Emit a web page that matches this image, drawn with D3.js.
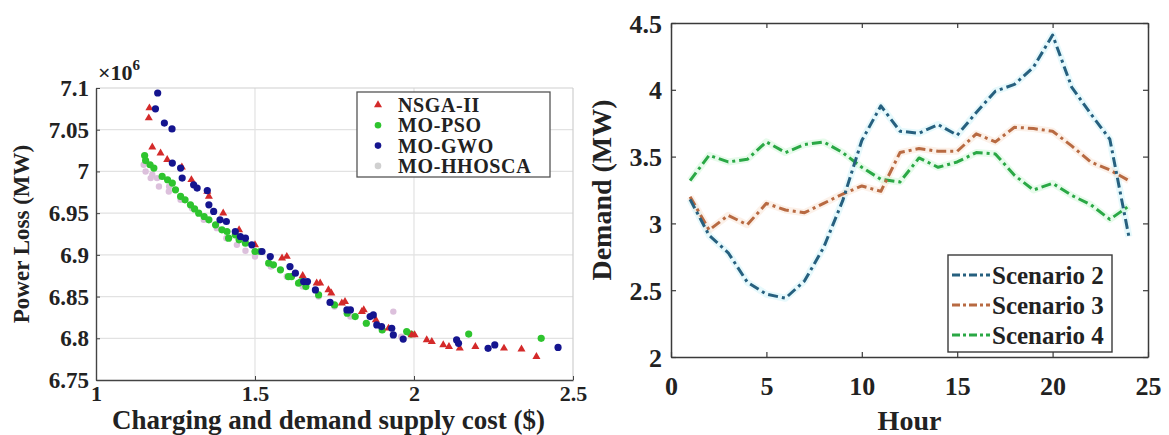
<!DOCTYPE html>
<html><head><meta charset="utf-8">
<script src="https://cdn.jsdelivr.net/npm/d3@7"></script>
<style>
body{margin:0;background:#fff}
text{font-family:"Liberation Serif","Times New Roman",serif;font-weight:bold;fill:#222}
</style></head>
<body><svg id="c" width="1169" height="435"></svg>
<script>
// ---------- Left panel data (Pareto fronts) ----------
const seriesNames = ["NSGA-II","MO-PSO","MO-GWO","MO-HHOSCA"];
const nsga2 = [[1.168,7.076],[1.166,7.064],[1.177,7.029],[1.203,7.022],[1.224,7.014],[1.27,7.005],[1.30,6.99],[1.35,6.976],[1.355,6.97],[1.40,6.95],[1.45,6.93],[1.50,6.912],[1.585,6.896],[1.60,6.898],[1.65,6.875],[1.694,6.866],[1.705,6.866],[1.731,6.858],[1.74,6.854],[1.773,6.842],[1.783,6.844],[1.836,6.832],[1.842,6.834],[1.88,6.822],[1.92,6.812],[1.993,6.804],[2.002,6.804],[2.04,6.798],[2.056,6.796],[2.092,6.792],[2.11,6.79],[2.144,6.788],[2.193,6.79],[2.283,6.788],[2.338,6.787],[2.385,6.778]];
const moPso = [[1.153,7.019],[1.156,7.013],[1.17,7.008],[1.182,7.004],[1.208,6.994],[1.225,6.99],[1.24,6.986],[1.25,6.978],[1.266,6.97],[1.28,6.966],[1.297,6.96],[1.31,6.955],[1.323,6.95],[1.34,6.946],[1.355,6.942],[1.376,6.936],[1.396,6.93],[1.412,6.928],[1.417,6.92],[1.438,6.924],[1.45,6.918],[1.47,6.914],[1.50,6.904],[1.516,6.904],[1.543,6.89],[1.558,6.888],[1.58,6.882],[1.605,6.874],[1.615,6.874],[1.637,6.866],[1.645,6.868],[1.66,6.862],[1.70,6.852],[1.75,6.84],[1.79,6.83],[1.815,6.826],[1.85,6.818],[1.90,6.81],[1.977,6.808],[1.99,6.805],[2.172,6.805],[2.40,6.80]];
const moGwo = [[1.194,7.094],[1.187,7.075],[1.215,7.058],[1.239,7.051],[1.24,7.01],[1.266,7.004],[1.271,6.992],[1.307,6.984],[1.318,6.98],[1.35,6.977],[1.355,6.96],[1.37,6.952],[1.39,6.942],[1.41,6.94],[1.438,6.928],[1.454,6.922],[1.47,6.92],[1.49,6.912],[1.522,6.904],[1.548,6.898],[1.61,6.886],[1.627,6.878],[1.653,6.868],[1.665,6.868],[1.69,6.858],[1.736,6.843],[1.789,6.834],[1.80,6.834],[1.862,6.826],[1.872,6.828],[1.883,6.816],[1.898,6.814],[1.93,6.812],[1.935,6.804],[1.966,6.799],[2.134,6.798],[2.14,6.794],[2.233,6.788],[2.254,6.792],[2.453,6.789]];
const moHhosca = [[1.15,7.008],[1.156,7.0],[1.172,6.992],[1.177,6.996],[1.192,6.992],[1.198,6.982],[1.23,6.982],[1.229,6.976],[1.266,6.966],[1.302,6.956],[1.339,6.942],[1.38,6.932],[1.41,6.92],[1.443,6.912],[1.47,6.905],[1.5,6.898],[1.55,6.886],[1.6,6.874],[1.65,6.862],[1.7,6.85],[1.75,6.838],[1.8,6.826],[1.85,6.818],[1.935,6.832],[1.9,6.81],[1.96,6.802]];
const xTicksL = [1,1.5,2,2.5];
const xTickLabelsL = ["1","1.5","2","2.5"];
const yTicksL = [6.75,6.8,6.85,6.9,6.95,7,7.05,7.1];
const yTickLabelsL = ["6.75","6.8","6.85","6.9","6.95","7","7.05","7.1"];

// ---------- Right panel data (demand) ----------
const hours = [1,2,3,4,5,6,7,8,9,10,11,12,13,14,15,16,17,18,19,20,21,22,23,24];
const scenario2 = [3.18,2.91,2.78,2.56,2.47,2.44,2.57,2.82,3.17,3.62,3.88,3.69,3.675,3.74,3.66,3.83,3.99,4.04,4.17,4.41,4.02,3.82,3.63,2.90];
const scenario3 = [3.20,2.95,3.06,2.99,3.15,3.10,3.08,3.15,3.22,3.28,3.24,3.53,3.56,3.54,3.54,3.67,3.61,3.72,3.71,3.69,3.58,3.46,3.40,3.32];
const scenario4 = [3.32,3.51,3.46,3.48,3.61,3.53,3.59,3.61,3.53,3.42,3.33,3.31,3.49,3.42,3.46,3.53,3.52,3.36,3.25,3.30,3.21,3.14,3.03,3.13];
const scenarioNames = ["Scenario 2","Scenario 3","Scenario 4"];
const xTicksR = [0,5,10,15,20,25];
const yTicksR = [2,2.5,3,3.5,4,4.5];

const svg = d3.select("#c");

// ================= LEFT PANEL =================
const L = {x0:96,x1:573,y0:88,y1:380};
const xL = d3.scaleLinear().domain([1,2.5]).range([L.x0,L.x1]);
const yL = d3.scaleLinear().domain([6.75,7.1]).range([L.y1,L.y0]);
const gL = svg.append("g");

// grid
gL.selectAll(".gx").data(xTicksL.slice(1,-1)).join("line")
  .attr("x1",d=>xL(d)).attr("x2",d=>xL(d)).attr("y1",L.y0).attr("y2",L.y1)
  .attr("stroke","#e2e2e2").attr("stroke-width",1.2);
gL.selectAll(".gy").data(yTicksL.slice(1,-1)).join("line")
  .attr("x1",L.x0).attr("x2",L.x1).attr("y1",d=>yL(d)).attr("y2",d=>yL(d))
  .attr("stroke","#e2e2e2").attr("stroke-width",1.2);
gL.append("line").attr("x1",L.x0).attr("x2",L.x1).attr("y1",L.y0).attr("y2",L.y0).attr("stroke","#cfcfcf").attr("stroke-width",1.2);
gL.append("line").attr("x1",L.x1).attr("x2",L.x1).attr("y1",L.y0).attr("y2",L.y1).attr("stroke","#cfcfcf").attr("stroke-width",1.2);

// axes
const axL = gL.append("g").attr("transform",`translate(${L.x0},0)`)
  .call(d3.axisLeft(yL).tickValues(yTicksL).tickFormat((d,i)=>yTickLabelsL[i]).tickSizeInner(-4).tickSizeOuter(0).tickPadding(7));
const axB = gL.append("g").attr("transform",`translate(0,${L.y1})`)
  .call(d3.axisBottom(xL).tickValues(xTicksL).tickFormat((d,i)=>xTickLabelsL[i]).tickSizeInner(-4).tickSizeOuter(0));
[axL,axB].forEach(a=>{a.select(".domain").attr("stroke","#444").attr("stroke-width",1.4);
  a.selectAll(".tick line").attr("stroke","#444");
  a.selectAll("text").attr("font-family",null).attr("font-size",23).attr("fill","#2a2a2a");});
axL.selectAll("text").attr("dy",null).attr("y",7.5);
axB.selectAll("text").attr("dy",null).attr("y",21).attr("font-size",22);

// x10^6
const mult = gL.append("text").attr("x",98).attr("y",80).attr("font-size",22).attr("fill","#333").attr("font-weight","normal");
mult.append("tspan").text("×10");
mult.append("tspan").text("6").attr("font-size",15).attr("dy",-10).attr("font-weight","bold");

// titles
gL.append("text").attr("x",(L.x0+L.x1)/2 - 6).attr("y",429).attr("text-anchor","middle").attr("font-size",27).attr("fill","#2a2a2a")
  .text("Charging and demand supply cost ($)");
gL.append("text").attr("transform",`translate(29,${(L.y0+L.y1)/2}) rotate(-90)`).attr("text-anchor","middle").attr("font-size",23).attr("fill","#2a2a2a")
  .text("Power Loss (MW)");

// points
const colL = {"NSGA-II":"#d42a2a","MO-PSO":"#2ec42e","MO-GWO":"#15158f","MO-HHOSCA":"#dcc0dc"};
const tri = d3.symbol(d3.symbolTriangle).size(28);
gL.append("g").selectAll("circle").data(moHhosca).join("circle")
  .attr("cx",d=>xL(d[0])).attr("cy",d=>yL(d[1])).attr("r",3.2).attr("fill",colL["MO-HHOSCA"]);
gL.append("g").selectAll("circle").data(moPso).join("circle")
  .attr("cx",d=>xL(d[0])).attr("cy",d=>yL(d[1])).attr("r",3.6).attr("fill",colL["MO-PSO"]);
gL.append("g").selectAll("path").data(nsga2).join("path")
  .attr("d",tri).attr("transform",d=>`translate(${xL(d[0])},${yL(d[1])})`).attr("fill",colL["NSGA-II"]);
gL.append("g").selectAll("circle").data(moGwo).join("circle")
  .attr("cx",d=>xL(d[0])).attr("cy",d=>yL(d[1])).attr("r",3.6).attr("fill",colL["MO-GWO"]);

// legend
const lg = gL.append("g");
lg.append("rect").attr("x",357).attr("y",92).attr("width",193).attr("height",85).attr("fill","#fff").attr("stroke","#555").attr("stroke-width",1.3);
seriesNames.forEach((n,i)=>{
  const cy = 105+i*20.3;
  if(i===0) lg.append("path").attr("d",tri).attr("transform",`translate(378,${cy})`).attr("fill",colL[n]);
  else lg.append("circle").attr("cx",378).attr("cy",cy).attr("r",3.3).attr("fill",i===3?"#d0d0d0":colL[n]);
  lg.append("text").attr("x",398).attr("y",cy+7).attr("font-size",20).attr("letter-spacing",0.6).attr("fill","#2a2a2a").text(n);
});

// ================= RIGHT PANEL =================
const R = {x0:671,x1:1148,y0:23,y1:357};
const xR = d3.scaleLinear().domain([0,25]).range([R.x0,R.x1]);
const yR = d3.scaleLinear().domain([2,4.5]).range([R.y1,R.y0]);
const gR = svg.append("g");

const axRL = gR.append("g").attr("transform",`translate(${R.x0},0)`)
  .call(d3.axisLeft(yR).tickValues(yTicksR).tickFormat(d3.format("")).tickSizeInner(-5).tickSizeOuter(0).tickPadding(9));
const axRB = gR.append("g").attr("transform",`translate(0,${R.y1})`)
  .call(d3.axisBottom(xR).tickValues(xTicksR).tickFormat(d3.format("")).tickSizeInner(-5).tickSizeOuter(0));
const axRT = gR.append("g").attr("transform",`translate(0,${R.y0})`)
  .call(d3.axisTop(xR).tickValues(xTicksR).tickFormat("").tickSizeInner(-5).tickSizeOuter(0));
const axRR = gR.append("g").attr("transform",`translate(${R.x1},0)`)
  .call(d3.axisRight(yR).tickValues(yTicksR).tickFormat("").tickSizeInner(-5).tickSizeOuter(0));
[axRL,axRB,axRT,axRR].forEach(a=>{a.select(".domain").attr("stroke","#3a3a3a").attr("stroke-width",1.5);
  a.selectAll(".tick line").attr("stroke","#3a3a3a").attr("stroke-width",1.2);
  a.selectAll("text").attr("font-family",null).attr("font-size",26).attr("fill","#2a2a2a");});
axRL.selectAll("text").attr("dy",null).attr("y",9);
axRB.selectAll("text").attr("dy",null).attr("y",38);

gR.append("text").attr("x",(R.x0+R.x1)/2).attr("y",430).attr("text-anchor","middle").attr("font-size",28).attr("fill","#2a2a2a").text("Hour");
gR.append("text").attr("transform",`translate(611,${(R.y0+R.y1)/2}) rotate(-90)`).attr("text-anchor","middle").attr("font-size",28).attr("fill","#2a2a2a").text("Demand (MW)");

const colR = ["#26607f","#b86a42","#2aa845"];
const haloR = ["#9fe6f2","#f5c9a8","#9ff0b0"];
const dash = "10,4,3,4";
const line = d3.line().x((d,i)=>xR(hours[i])).y(d=>yR(d));
[scenario2,scenario3,scenario4].forEach((s,k)=>{
  gR.append("path").datum(s).attr("d",line).attr("fill","none").attr("stroke",haloR[k]).attr("stroke-width",7).attr("stroke-opacity",0.25).attr("stroke-linejoin","round");
});
[scenario4,scenario3,scenario2].forEach((s,j)=>{
  const k = 2-j;
  gR.append("path").datum(s).attr("d",line).attr("fill","none").attr("stroke",colR[k]).attr("stroke-width",3)
    .attr("stroke-dasharray",dash).attr("stroke-linejoin","round");
});

// legend
const lr = gR.append("g");
lr.append("rect").attr("x",948).attr("y",255).attr("width",164).attr("height",97).attr("fill","#fff").attr("stroke","#3a3a3a").attr("stroke-width",1.4);
scenarioNames.forEach((n,i)=>{
  const cy = 275+i*30;
  lr.append("line").attr("x1",952).attr("x2",990).attr("y1",cy).attr("y2",cy).attr("stroke",colR[i]).attr("stroke-width",3).attr("stroke-dasharray","8,3,3,3");
  lr.append("text").attr("x",992).attr("y",cy+8.5).attr("font-size",25).attr("fill","#2a2a2a").text(n);
});
</script></body></html>
